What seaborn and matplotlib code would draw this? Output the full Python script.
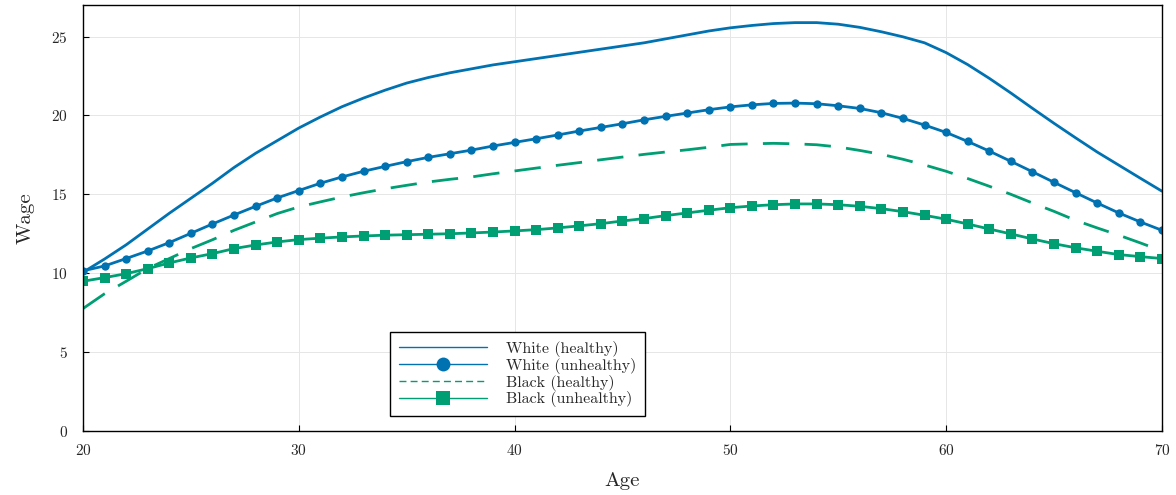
import numpy as np
import pandas as pd
import matplotlib
matplotlib.use("Agg")
import matplotlib.pyplot as plt
from matplotlib.lines import Line2D
import seaborn as sns

ages = list(range(20, 71))

white_healthy = [10.06, 10.9, 11.8, 12.8, 13.8, 14.75, 15.7, 16.7, 17.6, 18.4,
                 19.2, 19.9, 20.55, 21.1, 21.6, 22.05, 22.4, 22.7, 22.95, 23.2,
                 23.4, 23.6, 23.8, 24.0, 24.2, 24.4, 24.6, 24.85, 25.1, 25.35,
                 25.55, 25.7, 25.82, 25.88, 25.88, 25.78, 25.58, 25.3, 24.98, 24.6,
                 23.98, 23.22, 22.35, 21.42, 20.45, 19.5, 18.58, 17.68, 16.85, 16.02,
                 15.2]

white_unhealthy = [10.15, 10.46, 10.93, 11.41, 11.94, 12.53, 13.12, 13.69, 14.24, 14.77,
                   15.24, 15.7, 16.1, 16.46, 16.77, 17.07, 17.34, 17.57, 17.8, 18.06,
                   18.29, 18.52, 18.76, 19.01, 19.24, 19.47, 19.72, 19.94, 20.15, 20.36,
                   20.54, 20.67, 20.76, 20.78, 20.74, 20.61, 20.44, 20.17, 19.81, 19.39,
                   18.92, 18.35, 17.74, 17.09, 16.43, 15.76, 15.1, 14.45, 13.82, 13.25,
                   12.72]

black_healthy = [7.76, 8.7, 9.49, 10.3, 10.93, 11.56, 12.12, 12.72, 13.25, 13.78,
                 14.2, 14.52, 14.83, 15.1, 15.35, 15.57, 15.78, 15.95, 16.1, 16.3,
                 16.48, 16.66, 16.84, 17.01, 17.19, 17.36, 17.53, 17.68, 17.82, 17.98,
                 18.16, 18.2, 18.23, 18.2, 18.14, 18.0, 17.78, 17.53, 17.22, 16.86,
                 16.46, 16.0, 15.51, 15.0, 14.45, 13.92, 13.35, 12.87, 12.41, 11.92,
                 11.41]

black_unhealthy = [9.49, 9.72, 9.97, 10.29, 10.65, 10.97, 11.24, 11.56, 11.79, 11.98,
                   12.13, 12.22, 12.3, 12.36, 12.41, 12.44, 12.47, 12.5, 12.55, 12.61,
                   12.68, 12.76, 12.87, 13.0, 13.14, 13.31, 13.46, 13.65, 13.82, 13.99,
                   14.15, 14.26, 14.34, 14.39, 14.39, 14.34, 14.24, 14.09, 13.9, 13.67,
                   13.42, 13.12, 12.8, 12.49, 12.17, 11.87, 11.61, 11.39, 11.18, 11.05,
                   10.93]

labels = ["White (healthy)", "White (unhealthy)", "Black (healthy)", "Black (unhealthy)"]

sns.set_theme(style="white")
plt.rcParams["font.family"] = ["cmr10", "DejaVu Serif"]
plt.rcParams["axes.formatter.use_mathtext"] = True
plt.rcParams["mathtext.fontset"] = "cm"

blue = "#0072B2"
green = "#009E73"

fig = plt.figure(figsize=(11.76, 4.95), dpi=100)
ax = fig.add_axes([0.0706, 0.1293, 0.9174, 0.8607])

df = pd.DataFrame({"Age": ages, "wh": white_healthy, "wu": white_unhealthy,
                   "bh": black_healthy, "bu": black_unhealthy})

sns.lineplot(data=df, x="Age", y="wh", ax=ax, color=blue, lw=2.0)
sns.lineplot(data=df, x="Age", y="wu", ax=ax, color=blue, lw=2.0,
             marker="o", markersize=6, markeredgewidth=0)
sns.lineplot(data=df, x="Age", y="bh", ax=ax, color=green, lw=2.0)
ax.lines[-1].set_dashes((9.5, 5.5))
sns.lineplot(data=df, x="Age", y="bu", ax=ax, color=green, lw=2.0,
             marker="s", markersize=6.5, markeredgewidth=0)

ax.set_xlim(20, 70)
ax.set_ylim(0, 27)
ax.set_xticks([20, 30, 40, 50, 60, 70])
ax.set_yticks([0, 5, 10, 15, 20, 25])
ax.grid(True, color="#e6e6e6", lw=0.7)
ax.set_axisbelow(True)
for s in ax.spines.values():
    s.set_color("black")
    s.set_linewidth(1.0)
ax.tick_params(axis="both", direction="in", length=4, width=0.8, color="black",
               labelsize=11, bottom=True, left=True, top=False, right=False)
ax.tick_params(axis="y", pad=11)
ax.tick_params(axis="x", pad=9)
ax.set_xlabel("Age", fontsize=15, labelpad=10)
ax.set_ylabel("Wage", fontsize=15, labelpad=12)

handles = [
    Line2D([], [], color=blue, lw=1.0),
    Line2D([], [], color=blue, lw=1.0, marker="o", markersize=10, markeredgewidth=0),
    Line2D([], [], color=green, lw=1.0, dashes=(5, 3)),
    Line2D([], [], color=green, lw=1.0, marker="s", markersize=10, markeredgewidth=0),
]
leg = ax.legend(handles, labels, loc="lower left", bbox_to_anchor=(0.2845, 0.035),
                borderaxespad=0, fontsize=11.5, frameon=True, fancybox=False,
                edgecolor="black", framealpha=1, handlelength=5.5, labelspacing=0.05,
                borderpad=0.55, handletextpad=1.2)
leg.get_frame().set_linewidth(1.0)

fig.savefig("out.png", dpi=100)
